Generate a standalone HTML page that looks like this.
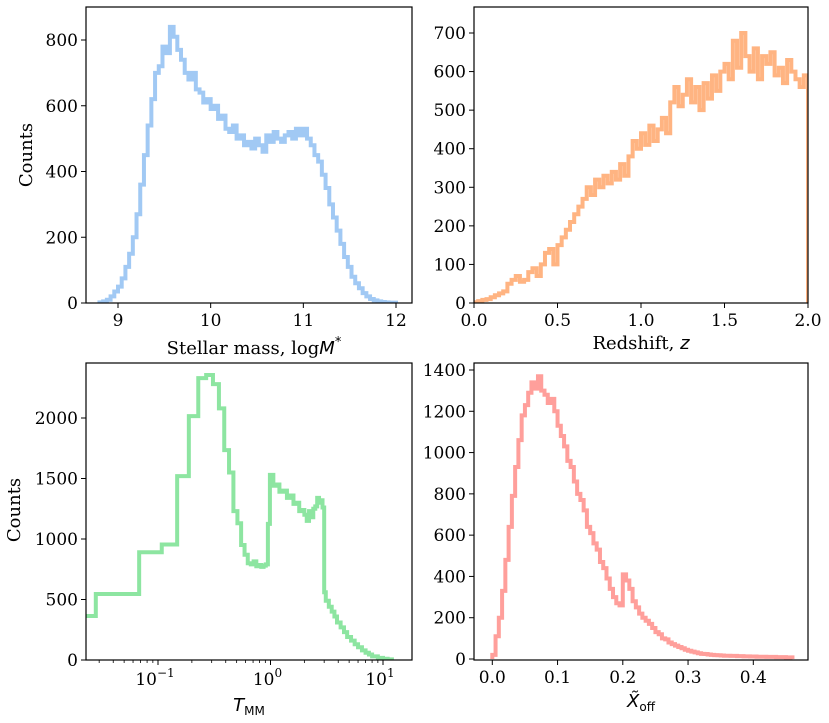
<!DOCTYPE html>
<html><head><meta charset="utf-8"><style>
html,body{margin:0;padding:0;background:#fff;}
svg{display:block;font-family:"DejaVu Serif","Liberation Serif",serif;}
</style></head><body>
<svg id="fig" width="829" height="723" viewBox="0 0 829 723" xmlns="http://www.w3.org/2000/svg">
<defs>
<clipPath id="c1"><rect x="86" y="7" width="326" height="296"/></clipPath>
<clipPath id="c2"><rect x="474" y="7" width="334" height="296"/></clipPath>
<clipPath id="c3"><rect x="86" y="363" width="326" height="297"/></clipPath>
<clipPath id="c4"><rect x="474" y="363" width="334" height="297"/></clipPath>
</defs>
</svg>
<script>
// Panel 1: stellar mass
const massEdges0 = 8.8;
const massWidth = 0.04;
const massCounts = [2,5,10,20,35, 50,75,110,150,200, 270,360,450,540,620, 700,720,780,760,840,
 810,770,740,700,680, 700,650,640,610,620, 590,600,560,570,530, 520,540,500,510,480,
 490,470,500,480,460, 510,490,520,500,490, 510,520,500,530,510, 530,500,480,450,430,
 390,350,300,260,220, 180,140,110,80,60, 45,30,20,12,8, 5,3,2,1,1];
const massTicks = [9,10,11,12];
const massYTicks = [0,200,400,600,800];
// Panel 2: redshift
const zEdge0 = 0;
const zWidth = 0.025;
const zCounts = [2,5,8,10,15,20,25,30,50,60, 70,55,60,80,90,70,100,130,140,100,
 150,170,190,210,230,250,270,300,280,320, 300,330,310,340,320,360,330,380,420,400,
 440,410,460,420,450,480,440,520,560,510, 540,580,520,560,500,570,530,590,550,600,
 620,580,680,610,700,640,600,660,580,640, 620,650,590,610,570,630,600,580,560,590];
const zTicks = [0,0.5,1.0,1.5,2.0];
const zYTicks = [0,100,200,300,400,500,600,700];
// Panel 3: T_MM (log x)
const tEdges = [-0.012,0.028,0.068,0.108,0.148,0.188,0.228,0.268,0.308,0.348,0.388,0.428,0.468,0.508,0.548,0.588,0.628,0.668,0.708,0.748,0.788,0.828,0.868,0.908,0.948,0.988,
 1.06,1.13,1.2,1.3,1.4,1.5,1.6,1.7,1.8,1.9,2.0,2.1,2.2,2.3,2.4,2.5,2.6,2.7,2.8,2.9,3.0,3.1,
 3.3,3.5,3.7,3.9,4.2,4.5,4.8,5.2,5.6,6.0,6.5,7,7.5,8,9,10,11,12];
const tCounts = [364,545,890,955,1520,2015,2330,2355,2280,2080,1735,1550,1230,1130,950,870,800,790,815,775,785,770,780,790,1125,
 1530,1440,1450,1390,1400,1340,1360,1290,1300,1230,1240,1200,1150,1230,1180,1250,1270,1340,1300,1320,1260,560,
 490,440,400,360,310,270,230,190,160,130,105,80,60,45,30,18,10,5];
const tYTicks = [0,500,1000,1500,2000];
// Panel 4: X_off
const xEdge0 = 0;
const xWidth = 0.005;
const xCounts = [20,110,200,330,480,640,790,930,1060,1180,
 1230,1290,1340,1310,1370,1300,1280,1240,1260,1200,
 1130,1080,1030,960,930,860,800,770,720,640,
 610,560,530,470,440,390,340,300,270,260,
 410,380,340,280,250,220,200,185,170,150,
 130,120,100,95,80,72,65,58,52,45,
 40,36,32,28,25,24,22,20,19,18,
 17,16,16,15,15,14,14,13,13,12,
 12,11,11,11,10,10,10,9,9,9,8,8];
const xTicks = [0.0,0.1,0.2,0.3,0.4];
const xYTicks = [0,200,400,600,800,1000,1200,1400];

const svg = document.getElementById('fig');
const NS = 'http://www.w3.org/2000/svg';
function mk(tag, attrs, parent){
  const e = document.createElementNS(NS, tag);
  for (const k in attrs) e.setAttribute(k, attrs[k]);
  (parent||svg).appendChild(e);
  return e;
}
function linScale(d0,d1,r0,r1){ return v => r0 + (v-d0)/(d1-d0)*(r1-r0); }
function logScale(d0,d1,r0,r1){ return v => r0 + (Math.log10(Math.max(v,1e-3))-d0)/(d1-d0)*(r1-r0); }

function stepPath(edges, counts, sx, sy){
  let d = 'M' + sx(edges[0]) + ',' + sy(0);
  for (let i=0;i<counts.length;i++){
    d += ' L' + sx(edges[i]) + ',' + sy(counts[i]) + ' L' + sx(edges[i+1]) + ',' + sy(counts[i]);
  }
  d += ' L' + sx(edges[counts.length]) + ',' + sy(0);
  return d;
}
function uniformEdges(e0, w, n){ const a=[]; for(let i=0;i<=n;i++) a.push(e0+i*w); return a; }

function frame(x,y,w,h,name){
  const r = mk('rect',{x:x,y:y,width:w,height:h,fill:'none',stroke:'#000','stroke-width':1.2});
  
  
}
function xTick(px, y, label, name, len){
  const l = mk('line',{x1:px,x2:px,y1:y,y2:y+(len||5),stroke:'#000','stroke-width':1});
  
  
  if (label!==null){
    const t = mk('text',{x:px,y:y+23,'text-anchor':'middle','font-size':17});
    t.textContent = label;
    
    
  }
}
function yTick(x, py, label, name){
  const l = mk('line',{x1:x-5,x2:x,y1:py,y2:py,stroke:'#000','stroke-width':1});
  
  
  const t = mk('text',{x:x-8,y:py+6,'text-anchor':'end','font-size':17});
  t.textContent = label;
  
  
}
function hist(edges, counts, sx, sy, color, clip, name){
  const p = mk('path',{d:stepPath(edges,counts,sx,sy),fill:'none',stroke:color,'stroke-width':4,'stroke-linejoin':'miter','clip-path':'url(#'+clip+')'});
  
  
}
function label(x,y,txt,name,rot){
  const t = mk('text',{x:x,y:y,'text-anchor':'middle','font-size':18});
  if (rot) t.setAttribute('transform','rotate(-90 '+x+' '+y+')');
  t.innerHTML = txt;
  
  
}

// Panel 1
{
  const sx = linScale(9,12,118,396), sy = linScale(0,800,303,40);
  hist(uniformEdges(massEdges0,massWidth,massCounts.length), massCounts, sx, sy, '#a1c9f4','c1','stellar-mass-histogram');
  frame(86,7,326,296,'stellar-mass-axes');
  massTicks.forEach(v=>xTick(sx(v),303,String(v),'mass-x'));
  massYTicks.forEach(v=>yTick(86,sy(v),String(v),'mass-y'));
  label(254,354,'Stellar mass, log<tspan font-family="DejaVu Sans" font-style="italic">M</tspan><tspan font-family="DejaVu Sans" font-size="13" dy="-8">*</tspan>','mass-x-axis-title');
  label(32,155,'Counts','mass-y-axis-title',true);
}
// Panel 2
{
  const sx = linScale(0,2,474,808), sy = linScale(0,700,303,33);
  hist(uniformEdges(zEdge0,zWidth,zCounts.length), zCounts, sx, sy, '#ffb482','c2','redshift-histogram');
  frame(474,7,334,296,'redshift-axes');
  zTicks.forEach(v=>xTick(sx(v),303,v.toFixed(1),'z-x'));
  zYTicks.forEach(v=>yTick(474,sy(v),String(v),'z-y'));
  label(641,349,'Redshift, <tspan font-family="DejaVu Sans" font-style="italic">z</tspan>','z-x-axis-title');
}
// Panel 3
{
  const sx = logScale(-1,0,158,270.5), sy = linScale(0,2000,660,418);
  hist(tEdges, tCounts, sx, sy, '#8de5a1','c3','tmm-histogram');
  frame(86,363,326,297,'tmm-axes');
  [-1,0,1].forEach(d=>{
    const px = sx(Math.pow(10,d));
    const l = mk('line',{x1:px,x2:px,y1:660,y2:665,stroke:'#000','stroke-width':1});
    
    
    const t = mk('text',{x:px-3,y:685,'text-anchor':'middle','font-size':17});
    t.innerHTML = '10<tspan font-size="12" dy="-8">'+(d<0?'\u22121':String(d))+'</tspan>';
    
    
  });
  [-2,-1,0,1].forEach(dec=>{
    for(let m=2;m<=9;m++){
      const v=m*Math.pow(10,dec), px=sx(v);
      if(px<86||px>412) continue;
      const l = mk('line',{x1:px,x2:px,y1:660,y2:663,stroke:'#000','stroke-width':0.8});
      
      
    }
  });
  tYTicks.forEach(v=>yTick(86,sy(v),String(v),'tmm-y'));
  label(249,711,'<tspan font-family="DejaVu Sans" font-style="italic">T</tspan><tspan font-family="DejaVu Sans" font-size="12" dy="4">MM</tspan>','tmm-x-axis-title');
  label(20,510,'Counts','tmm-y-axis-title',true);
}
// Panel 4
{
  const sx = linScale(0,0.4,492.3,753.3), sy = linScale(0,1400,659,370);
  hist(uniformEdges(xEdge0,xWidth,xCounts.length), xCounts, sx, sy, '#ff9f9b','c4','xoff-histogram');
  frame(474,363,334,297,'xoff-axes');
  xTicks.forEach(v=>xTick(sx(v),660,v.toFixed(1),'xoff-x'));
  xYTicks.forEach(v=>yTick(474,sy(v),String(v),'xoff-y'));
  label(641,707,'<tspan font-family="DejaVu Sans" font-style="italic">X\u0303</tspan><tspan font-family="DejaVu Sans" font-size="12" dy="4">off</tspan>','xoff-x-axis-title');
}
</script>
</body></html>
